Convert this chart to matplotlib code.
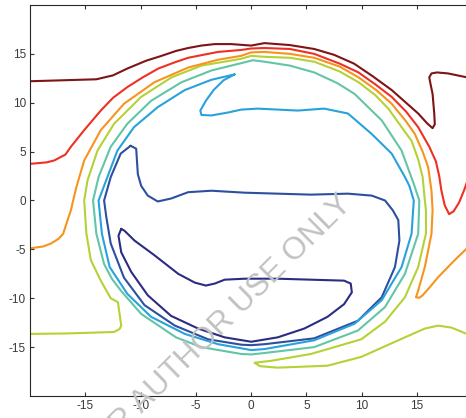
"""Contour-style closed/open level curves around a vortex ring, MATLAB look."""
import matplotlib
matplotlib.use("Agg")
import matplotlib.pyplot as plt

plt.rcParams["font.family"] = ["Liberation Sans", "DejaVu Sans"]
plt.rcParams["axes.unicode_minus"] = False

# ---- traced level curves (x, y in data units) ----
dkred_x = [-20, -17, -14, -12.5, -11.2, -9.5, -8.1, -6.8, -5.7, -4.5, -3.3, -1.8, 0, 1.2, 3.5, 5.7,
           7.5, 9.3, 11.0, 12.7, 14.0, 15.1, 15.9, 16.4, 16.6, 16.55, 16.4, 16.2, 16.1, 16.3, 16.8,
           17.8, 19.5, 20]
dkred_y = [12.2, 12.3, 12.4, 12.8, 13.5, 14.3, 14.8, 15.3, 15.6, 15.85, 16.0, 16.0, 15.85, 16.1,
           15.9, 15.5, 14.9, 14.0, 12.7, 11.3, 10.0, 8.9, 7.9, 7.4, 7.8, 8.9, 10.9, 12.0, 12.6, 13.0,
           13.1, 13.0, 12.6, 12.5]

red_x = [-20, -18.5, -17.8, -16.8, -16.3, -15.1, -13.6, -12.5, -11.2, -9.8, -8.4, -7.0, -5.7, -3.0,
         -0.9, 0, 1.2, 3.5, 5.7, 8.0, 9.7, 11.2, 12.7, 14.0, 15.1, 16.1, 16.7, 17.0, 17.2, 17.5,
         17.9, 18.3, 18.8, 19.3, 19.6, 20]
red_y = [3.75, 3.9, 4.1, 4.7, 5.5, 7.2, 9.2, 10.5, 11.6, 12.6, 13.5, 14.1, 14.6, 15.2, 15.4, 15.55,
         15.6, 15.5, 15.0, 14.0, 13.1, 11.9, 10.6, 9.1, 7.5, 5.5, 4.0, 2.5, 1.0, -0.5, -1.4, -1.1,
         -0.2, 1.2, 2.2, 3.4]

orange_x = [-20, -18.8, -18.1, -17.4, -17.0, -16.6, -16.3, -16.1, -15.8, -15.1, -13.6, -11.5, -8.75,
            -5.7, -3.0, -0.9, 0, 1.2, 3.5, 5.7, 8.0, 9.7, 11.3, 12.7, 14.0, 14.8, 15.5, 16.0, 16.3,
            16.4, 16.3, 15.7, 15.1, 14.9, 15.2, 15.5, 16.2, 16.9, 18.4, 19.5, 20]
orange_y = [-4.9, -4.7, -4.4, -3.9, -3.4, -2.0, -1.0, 0, 1.4, 4.1, 7.2, 9.9, 12.1, 13.6, 14.4, 14.8,
            15.15, 15.2, 15.0, 14.6, 13.7, 12.6, 11.3, 9.9, 8.1, 6.8, 5.0, 3.4, 1.0, -1.0, -3.4,
            -6.8, -9.2, -9.9, -9.95, -9.7, -8.8, -7.85, -6.1, -4.9, -4.5]

yg_x = [-20, -16.6, -12.4, -11.9, -11.75, -12.05, -12.7, -13.6, -14.5, -14.9, -15.1, -14.8, -13.9,
        -12.4, -9.95, -7.2, -4.5, -0.9, 0, 1.2, 3.5, 5.7, 8.0, 9.7, 11.2, 12.4, 13.6, 14.5, 15.1,
        15.5, 15.7, 15.8, 15.8, 15.1, 13.9, 12.1, 9.95, 5.4, 1.8, 0.3, 0.8, 2.4, 6.9, 9.95, 13.3,
        15.7, 16.9, 18.1, 19.5, 20]
yg_y = [-13.65, -13.6, -13.45, -13.15, -12.8, -10.4, -10.0, -8.2, -6.1, -3.4, 0, 2.05, 5.1, 7.85,
        10.6, 12.6, 13.8, 14.5, 14.8, 14.7, 14.6, 14.2, 13.2, 12.1, 10.8, 9.4, 7.5, 6.1, 4.2, 2.4,
        0, -1.0, -3.4, -6.8, -9.9, -12.4, -14.2, -15.7, -16.4, -16.6, -16.95, -17.1, -16.9, -16.0,
        -14.3, -13.1, -12.8, -13.0, -13.65, -13.9]

teal_x = [-14.3, -13.8, -12.7, -11.2, -9.05, -6.3, -3.6, -0.9, 0.15, 1.2, 3.5, 5.7, 7.8, 9.35, 11.8,
          13.6, 14.7, 15.2, 15.1, 13.9, 12.1, 9.65, 5.7, 1.2, 0, -0.9, -4.5, -6.8, -9.95, -11.8,
          -12.6, -13.3, -14.0, -14.3]
teal_y = [0, 2.4, 5.5, 7.85, 10.2, 12.1, 13.3, 14.05, 14.35, 14.2, 13.8, 13.1, 12.0, 10.9, 8.2,
          5.1, 1.7, 0, -3.4, -7.5, -10.9, -13.3, -15.0, -15.6, -15.75, -15.7, -15.0, -14.0, -11.6,
          -9.2, -8.0, -6.5, -3.4, 0]

ltblue_x = [-1.5, -3.6, -6.0, -8.45, -10.6, -12.1, -13.0, -13.8, -13.5, -12.8, -11.2, -9.05, -6.0,
            -3.0, 0, 1.2, 5.7, 9.35, 11.8, 13.6, 14.5, 14.7, 14.3, 13.9, 12.7, 10.9, 8.75, 6.6,
            4.2, 0.6, -0.9, -2.1, -3.6, -4.5, -4.6, -4.1, -3.4, -2.5, -1.5]
ltblue_y = [12.9, 12.35, 11.3, 9.55, 7.5, 5.1, 2.4, 0, -3.4, -6.8, -9.55, -11.9, -13.65, -14.7,
            -15.3, -15.2, -14.3, -12.6, -10.2, -6.8, -3.4, 0, 1.5, 2.4, 4.8, 6.8, 8.9, 9.4, 9.2,
            9.4, 9.3, 9.0, 8.7, 8.75, 9.2, 10.2, 11.3, 12.3, 12.9]

blue_x = [-10.9, -10.4, -10.25, -9.95, -9.35, -8.45, -7.25, -5.7, -3.6, -0.6, 5.4, 8.75, 10.9, 12.1,
          12.8, 13.3, 13.4, 13.0, 11.8, 9.65, 5.7, 1.2, 0, -0.9, -3.9, -6.9, -9.65, -11.5, -12.7,
          -13.1, -13.3, -12.7, -11.8, -10.9]
blue_y = [5.6, 5.3, 2.7, 1.5, 0.5, -0.1, 0.2, 0.85, 1.0, 0.8, 0.6, 0.7, 0.5, 0, -1.0, -2.0, -4.1,
          -6.8, -9.9, -12.3, -14.1, -14.7, -14.8, -14.75, -14.2, -12.8, -10.7, -7.9, -4.4, -1.7, 0,
          2.4, 4.8, 5.6]

navy_x = [-11.75, -12.0, -11.75, -10.85, -9.35, -7.25, -4.8, -2.4, 0, 2.4, 4.8, 6.9, 8.4, 9.1, 9.0,
          8.4, 5.4, 2.4, -0.6, -2.4, -3.3, -4.1, -5.1, -6.6, -8.75, -10.55, -11.45, -11.75]
navy_y = [-2.9, -3.6, -5.3, -7.3, -9.7, -11.8, -13.1, -14.0, -14.45, -14.0, -13.1, -11.9, -10.6,
          -9.4, -8.5, -8.2, -8.1, -8.0, -8.0, -8.1, -8.5, -8.7, -8.4, -7.5, -5.6, -4.1, -3.1, -2.9]

curves = [
    (navy_x, navy_y, "#2b2c82"),
    (blue_x, blue_y, "#2d4f9f"),
    (ltblue_x, ltblue_y, "#29a2dc"),
    (teal_x, teal_y, "#62c5a6"),
    (yg_x, yg_y, "#b4d236"),
    (orange_x, orange_y, "#f7941d"),
    (red_x, red_y, "#ee3124"),
    (dkred_x, dkred_y, "#7d1416"),
]

ticks = [-15, -10, -5, 0, 5, 10, 15]

fig = plt.figure(figsize=(4.66, 4.18), dpi=100)
# right spine sits just outside the image, like the cropped original
ax = fig.add_axes([30 / 466, 1 - 396 / 418, 442.4 / 466, 391 / 418])

for xs, ys, c in curves:
    ax.plot(xs, ys, color=c, lw=1.5, solid_joinstyle="round", solid_capstyle="round")

ax.set_xlim(-20, 20)
ax.set_ylim(-20, 20)
ax.set_xticks(ticks)
ax.set_yticks(ticks)
ax.set_xticklabels([str(t) for t in ticks])
ax.set_yticklabels([str(t) for t in ticks])
ax.tick_params(direction="in", top=True, right=True, length=3, width=0.8,
               labelsize=8.5, labelcolor="#3a3a3a", color="#333333", pad=3)
for s in ax.spines.values():
    s.set_color("#262626")
    s.set_linewidth(0.8)

# watermark (runs off the bottom edge, as in the source image)
fig.text(0.463, 0.212, "FOR AUTHOR USE ONLY", rotation=44.6, ha="center", va="center",
         fontsize=22.5, color="#c2c2c2", rotation_mode="anchor", zorder=10)

fig.savefig("out.png", dpi=100)
